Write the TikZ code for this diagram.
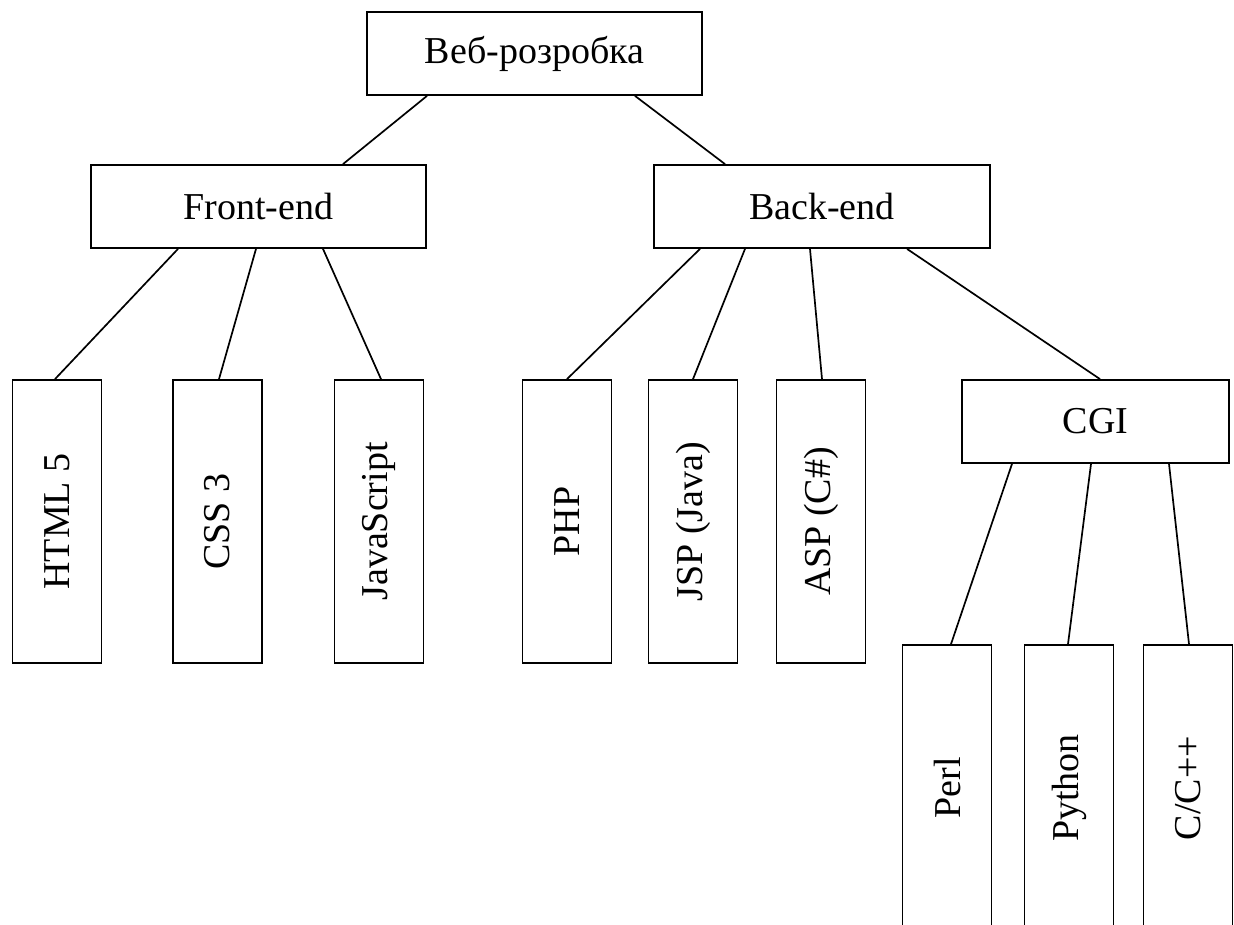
\documentclass[tikz,border=0pt]{standalone}
\usepackage{fontspec}
\setmainfont{Liberation Serif}
\usepackage{graphicx}
\begin{document}
\begin{tikzpicture}[x=1pt,y=-1pt,
  box/.style={draw, line width=1.8pt, inner sep=0pt, font=\fontsize{38}{42}\selectfont},
  wide/.style={box, minimum width=335pt, minimum height=83pt},
  tall/.style={box, minimum width=89pt, minimum height=283pt},
  link/.style={line width=1.7pt}]
\useasboundingbox (0,0) rectangle (1234,925);
\fill[white] (0,0) rectangle (1234,925);
\clip (0,0) rectangle (1234,925);
% level 0
\node[wide] (top) at (534.5,53.5) {Веб-розробка};
% level 1
\node[wide] (front) at (258.5,206.5) {Front-end};
\node[wide, minimum width=336pt] (back) at (822,206.5) {Back-end};
% level 2
\node[tall] (html) at (57,521.5) {\rotatebox{90}{HTML 5}};
\node[tall] (css) at (217.5,521.5) {\rotatebox{90}{CSS 3}};
\node[tall] (js) at (379,521.5) {\rotatebox{90}{JavaScript}};
\node[tall] (php) at (567,521.5) {\rotatebox{90}{PHP}};
\node[tall] (jsp) at (693,521.5) {\rotatebox{90}{JSP (Java)}};
\node[tall] (asp) at (821,521.5) {\rotatebox{90}{ASP (C\#)}};
\node[box, minimum width=267pt, minimum height=83pt] (cgi) at (1095.5,421.5) {CGI};
% level 3
\node[tall, minimum height=286pt] (perl) at (947,788) {\rotatebox{90}{Perl}};
\node[tall, minimum height=286pt] (python) at (1069,788) {\rotatebox{90}{Python}};
\node[tall, minimum height=286pt] (cpp) at (1188,788) {\rotatebox{90}{C/C++}};
% connectors
\draw[link] ([xshift=-107.5pt]top.south) -- ([xshift=84.5pt]front.north);
\draw[link] ([xshift=100.5pt]top.south) -- ([xshift=-97pt]back.north);
\draw[link] ([xshift=-80.5pt]front.south) -- ([xshift=-2pt]html.north);
\draw[link] ([xshift=-2.5pt]front.south) -- ([xshift=1.5pt]css.north);
\draw[link] ([xshift=64.5pt]front.south) -- ([xshift=2pt]js.north);
\draw[link] ([xshift=-122pt]back.south) -- (php.north);
\draw[link] ([xshift=-77pt]back.south) -- (jsp.north);
\draw[link] ([xshift=-12pt]back.south) -- ([xshift=1pt]asp.north);
\draw[link] ([xshift=85pt]back.south) -- ([xshift=4.5pt]cgi.north);
\draw[link] ([xshift=-83.5pt]cgi.south) -- ([xshift=4pt]perl.north);
\draw[link] ([xshift=-4.5pt]cgi.south) -- ([xshift=-1pt]python.north);
\draw[link] ([xshift=73.5pt]cgi.south) -- ([xshift=1pt]cpp.north);
\end{tikzpicture}
\end{document}
